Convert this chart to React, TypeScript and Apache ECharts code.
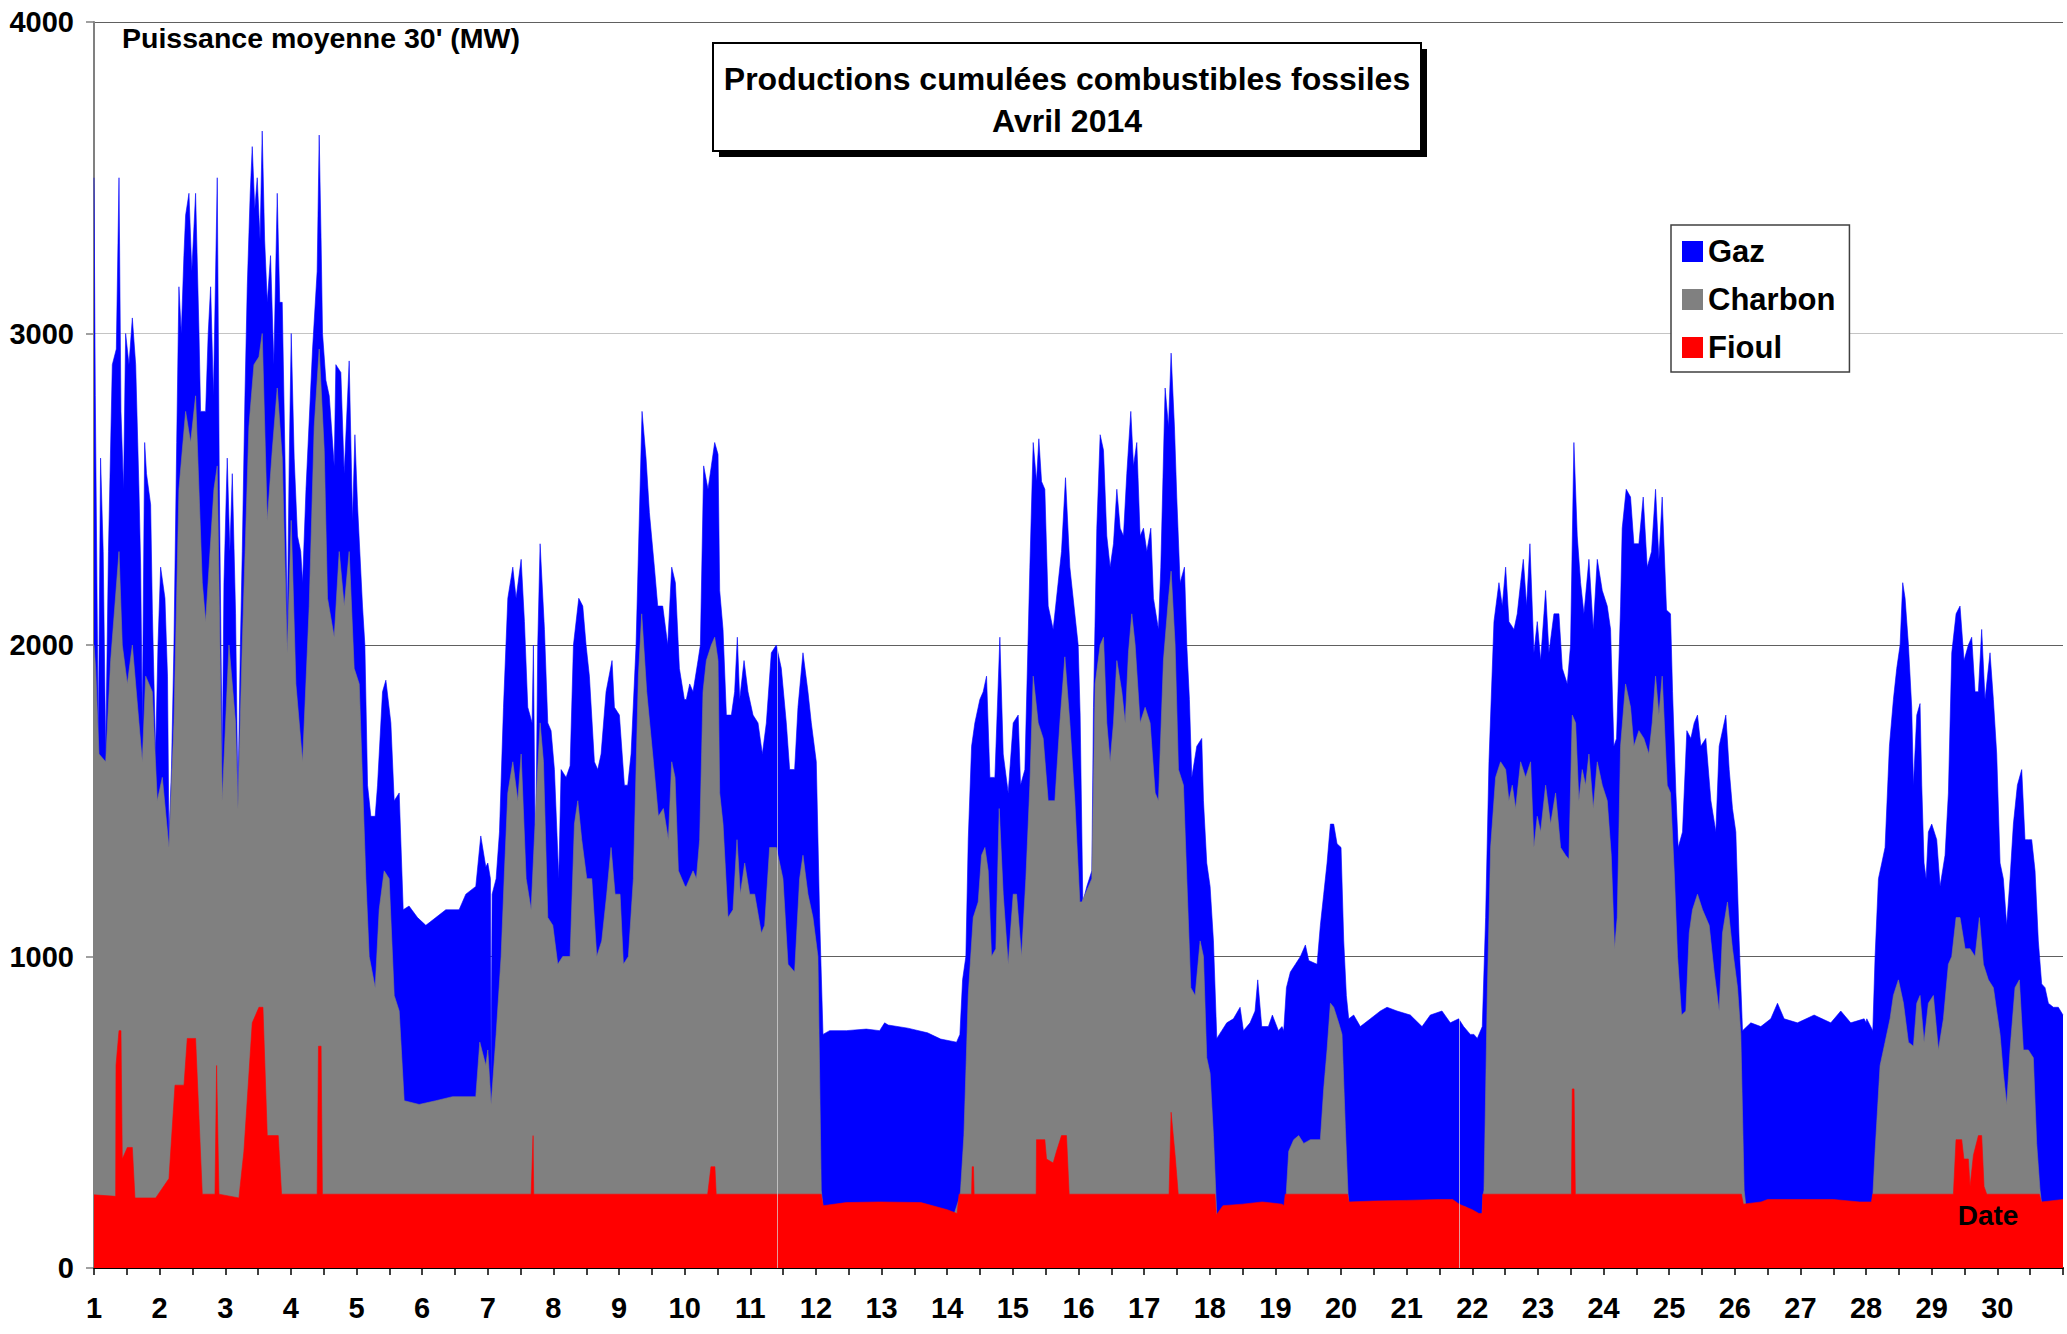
import React, { useEffect, useRef } from "react";
import * as echarts from "echarts";

const FONT = '"Liberation Sans", Arial, sans-serif';

// Cumulative levels (x = day of April 2014, y = MW)
// Top of blue layer = Gaz + Charbon + Fioul
const gazTotal: number[][] = [
  [1.0, 3500], [1.02, 2800], [1.066, 1680], [1.1, 2600], [1.14, 2300], [1.178, 1650], [1.22, 2300], [1.279, 2900], [1.34, 2950], [1.381, 3500],
  [1.411, 2750], [1.45, 2500], [1.482, 3000], [1.533, 2900], [1.584, 3050], [1.635, 2900], [1.685, 2500], [1.711, 2250], [1.736, 1750], [1.772, 2650],
  [1.8, 2550], [1.863, 2450], [1.89, 2100], [1.939, 1650], [1.975, 2000], [2.015, 2250], [2.081, 2150], [2.12, 1900], [2.142, 1380], [2.18, 1600],
  [2.218, 2000], [2.26, 2650], [2.294, 3150], [2.33, 3000], [2.37, 3250], [2.396, 3380], [2.447, 3450], [2.49, 3200], [2.548, 3450], [2.6, 3000],
  [2.624, 2750], [2.701, 2750], [2.74, 3000], [2.777, 3150], [2.82, 2800], [2.878, 3500], [2.91, 2500], [2.954, 1620], [2.98, 2200], [3.03, 2600],
  [3.07, 2300], [3.107, 2550], [3.157, 2100], [3.193, 1500], [3.23, 2000], [3.259, 2300], [3.3, 2800], [3.335, 3150], [3.38, 3450], [3.411, 3600],
  [3.45, 3400], [3.487, 3500], [3.53, 3300], [3.563, 3650], [3.6, 3300], [3.64, 3100], [3.69, 3250], [3.74, 2900], [3.792, 3450], [3.83, 3100],
  [3.868, 3100], [3.91, 2600], [3.944, 2050], [3.975, 2600], [4.005, 3000],
  [4.05, 2600], [4.1, 2350], [4.15, 2300], [4.178, 2200], [4.23, 2500], [4.33, 2950], [4.4, 3200], [4.431, 3637], [4.46, 3300], [4.482, 3000],
  [4.533, 2850], [4.584, 2800], [4.66, 2575], [4.685, 2900], [4.761, 2875], [4.812, 2550], [4.888, 2912], [4.939, 2400], [4.975, 2675], [5.015, 2450],
  [5.091, 2125], [5.127, 2000], [5.168, 1550], [5.218, 1450], [5.284, 1450], [5.32, 1550], [5.396, 1850], [5.447, 1887], [5.523, 1750], [5.574, 1500],
  [5.65, 1525], [5.711, 1150], [5.8, 1162], [5.929, 1125], [6.056, 1100], [6.208, 1125], [6.36, 1150], [6.563, 1150], [6.665, 1200], [6.817, 1225],
  [6.893, 1387], [6.97, 1287], [7.0, 1300],
  [7.04, 1250], [7.05, 600], [7.066, 1200], [7.127, 1250], [7.178, 1400], [7.239, 1800], [7.305, 2150], [7.381, 2250], [7.431, 2150], [7.508, 2275],
  [7.558, 2075], [7.609, 1800], [7.675, 1750], [7.695, 2000], [7.726, 1250], [7.761, 2000], [7.797, 2325], [7.863, 2050], [7.914, 1750], [7.964, 1725],
  [8.015, 1600], [8.081, 1250], [8.117, 1600], [8.193, 1575], [8.254, 1612], [8.305, 2000], [8.386, 2150], [8.447, 2125], [8.497, 2000], [8.548, 1900],
  [8.624, 1625], [8.675, 1600], [8.726, 1650], [8.802, 1850], [8.893, 1950], [8.929, 1800], [9.005, 1775], [9.081, 1550], [9.132, 1550], [9.183, 1650],
  [9.259, 2000], [9.35, 2750], [9.411, 2600], [9.462, 2425], [9.538, 2250], [9.589, 2125], [9.665, 2125], [9.741, 2000], [9.802, 2250], [9.858, 2200],
  [9.919, 1925], [9.995, 1825],
  [10.025, 1825], [10.076, 1875], [10.127, 1850], [10.203, 1950], [10.239, 2000], [10.289, 2575], [10.355, 2500], [10.406, 2575], [10.457, 2650], [10.508, 2612],
  [10.533, 2175], [10.584, 2050], [10.635, 1775], [10.711, 1775], [10.761, 1850], [10.802, 2025], [10.838, 1825], [10.904, 1950], [10.964, 1850], [11.041, 1775],
  [11.117, 1750], [11.183, 1650], [11.244, 1750], [11.32, 1975], [11.396, 2000], [11.472, 1925], [11.548, 1750], [11.599, 1600], [11.675, 1600], [11.726, 1800],
  [11.802, 1975], [11.878, 1850], [11.929, 1750], [12.005, 1625], [12.056, 1125], [12.107, 750], [12.208, 762], [12.462, 762], [12.766, 767], [12.97, 762],
  [13.046, 787],
  [13.1, 780], [13.4, 770], [13.7, 755], [13.9, 735], [14.142, 725], [14.193, 750], [14.234, 925], [14.284, 1000], [14.32, 1375], [14.371, 1675],
  [14.421, 1750], [14.497, 1825], [14.548, 1850], [14.599, 1900], [14.65, 1575], [14.726, 1575], [14.802, 2025], [14.853, 1650], [14.929, 1525], [15.005, 1750],
  [15.081, 1775], [15.117, 1550], [15.183, 1600], [15.259, 2250], [15.31, 2650], [15.36, 2525], [15.396, 2662], [15.437, 2525], [15.487, 2500], [15.538, 2125],
  [15.614, 2050], [15.69, 2200], [15.741, 2300], [15.802, 2537], [15.868, 2250], [15.944, 2100], [15.995, 2000],
  [16.025, 1775], [16.066, 1175], [16.127, 1225], [16.203, 1275], [16.228, 1800], [16.279, 2375], [16.33, 2675], [16.381, 2625], [16.431, 2350], [16.482, 2250],
  [16.533, 2325], [16.584, 2500], [16.635, 2375], [16.685, 2350], [16.736, 2550], [16.797, 2750], [16.838, 2575], [16.888, 2650], [16.939, 2350], [16.99, 2375],
  [17.041, 2300], [17.102, 2375], [17.142, 2150], [17.218, 2050], [17.254, 2250], [17.32, 2825], [17.371, 2700], [17.411, 2937], [17.462, 2700], [17.497, 2475],
  [17.548, 2200], [17.614, 2250], [17.65, 2000], [17.69, 1825], [17.726, 1575], [17.802, 1675], [17.878, 1700], [17.904, 1500], [17.954, 1300], [18.005, 1225],
  [18.056, 1050], [18.107, 737], [18.183, 762], [18.259, 787], [18.36, 800], [18.462, 837], [18.513, 762], [18.614, 787], [18.69, 825], [18.731, 925],
  [18.792, 775], [18.893, 775], [18.954, 812], [19.046, 762],
  [19.1, 775], [19.127, 762], [19.168, 900], [19.228, 950], [19.305, 975], [19.381, 1000], [19.457, 1037], [19.508, 987], [19.635, 975], [19.685, 1100],
  [19.736, 1200], [19.787, 1300], [19.838, 1425], [19.888, 1425], [19.939, 1362], [20.0, 1350], [20.041, 1050], [20.081, 875], [20.117, 800], [20.193, 812],
  [20.294, 775], [20.447, 800], [20.599, 825], [20.701, 837], [20.853, 825], [21.056, 812], [21.234, 775], [21.36, 812], [21.538, 825], [21.665, 787],
  [21.792, 800], [21.868, 775], [21.97, 750],
  [22.025, 750], [22.076, 737], [22.152, 775], [22.203, 1125], [22.254, 1625], [22.33, 2075], [22.406, 2200], [22.457, 2125], [22.508, 2250], [22.558, 2075],
  [22.635, 2050], [22.685, 2100], [22.736, 2200], [22.777, 2275], [22.827, 2125], [22.878, 2325], [22.939, 1975], [22.99, 2075], [23.041, 1950], [23.117, 2175],
  [23.168, 1975], [23.244, 2100], [23.32, 2100], [23.371, 1925], [23.447, 1875], [23.497, 2000], [23.548, 2650], [23.599, 2350], [23.65, 2200], [23.701, 2100],
  [23.777, 2275], [23.843, 2050], [23.904, 2275], [23.98, 2175], [24.056, 2125], [24.107, 2050], [24.157, 1675], [24.198, 1700], [24.259, 2125], [24.284, 2375],
  [24.345, 2500], [24.411, 2475], [24.462, 2325], [24.538, 2325], [24.604, 2475], [24.665, 2250], [24.731, 2300], [24.792, 2500], [24.843, 2275], [24.893, 2475],
  [24.959, 2112], [25.02, 2100],
  [25.051, 1850], [25.102, 1525], [25.137, 1350], [25.203, 1400], [25.269, 1725], [25.33, 1700], [25.381, 1750], [25.431, 1775], [25.482, 1675], [25.558, 1700],
  [25.635, 1500], [25.711, 1400], [25.761, 1675], [25.812, 1725], [25.863, 1775], [25.914, 1600], [25.964, 1475], [26.015, 1400], [26.066, 1050], [26.117, 762],
  [26.244, 787], [26.396, 775], [26.548, 800], [26.65, 850], [26.751, 800], [26.954, 787], [27.208, 812], [27.462, 787], [27.614, 825], [27.766, 787],
  [27.97, 800], [28.0, 787],
  [28.01, 800], [28.102, 762], [28.137, 1000], [28.188, 1250], [28.239, 1300], [28.289, 1350], [28.355, 1675], [28.416, 1825], [28.467, 1925], [28.518, 2000],
  [28.558, 2200], [28.594, 2150], [28.645, 2000], [28.695, 1800], [28.721, 1550], [28.772, 1775], [28.822, 1812], [28.848, 1550], [28.883, 1300], [28.914, 1250],
  [28.949, 1400], [29.0, 1425], [29.076, 1375], [29.127, 1225], [29.203, 1325], [29.254, 1525], [29.305, 1975], [29.371, 2100], [29.431, 2125], [29.492, 1950],
  [29.558, 2000], [29.609, 2025], [29.66, 1850], [29.711, 1850], [29.761, 2050], [29.812, 1825], [29.888, 1975], [29.939, 1825], [29.99, 1650], [30.041, 1300],
  [30.091, 1250], [30.142, 1100], [30.193, 1250], [30.244, 1425], [30.305, 1550], [30.371, 1600], [30.421, 1375], [30.472, 1375], [30.523, 1375], [30.574, 1275],
  [30.624, 1050], [30.675, 912], [30.726, 900], [30.777, 850], [30.853, 837], [30.929, 837], [31.0, 812],
];

// Top of grey layer = Charbon + Fioul
const charbonCumul: number[][] = [
  [1.0, 2000], [1.025, 1925], [1.076, 1650], [1.178, 1625], [1.254, 1950], [1.381, 2300], [1.431, 2000], [1.508, 1875], [1.584, 2000], [1.685, 1750],
  [1.736, 1625], [1.787, 1900], [1.888, 1850], [1.964, 1500], [2.041, 1575], [2.142, 1350], [2.218, 1750], [2.294, 2500], [2.396, 2750], [2.472, 2650],
  [2.548, 2800], [2.65, 2200], [2.701, 2075], [2.827, 2500], [2.878, 2575], [2.954, 1500], [3.056, 2000], [3.157, 1750], [3.193, 1475], [3.259, 2000],
  [3.36, 2700], [3.437, 2900], [3.513, 2925], [3.563, 3000], [3.64, 2400], [3.716, 2625], [3.792, 2825], [3.868, 2600], [3.944, 1975], [4.005, 2400],
  [4.076, 1875], [4.178, 1625], [4.279, 2125], [4.355, 2700], [4.431, 2950], [4.508, 2625], [4.558, 2150], [4.66, 2025], [4.736, 2300], [4.812, 2125],
  [4.888, 2300], [4.964, 1925], [5.041, 1875], [5.142, 1250], [5.193, 1000], [5.284, 900], [5.345, 1150], [5.421, 1275], [5.497, 1250], [5.574, 875],
  [5.65, 825], [5.726, 537], [5.954, 525], [6.208, 537], [6.462, 550], [6.817, 550], [6.878, 725], [6.97, 650], [7.0, 700],
  [7.051, 525], [7.127, 750], [7.203, 1000], [7.254, 1275], [7.305, 1525], [7.381, 1625], [7.457, 1500], [7.508, 1650], [7.584, 1250], [7.66, 1150],
  [7.736, 1500], [7.797, 1750], [7.848, 1625], [7.914, 1125], [7.99, 1100], [8.066, 975], [8.142, 1000], [8.254, 1000], [8.32, 1425], [8.371, 1500],
  [8.431, 1375], [8.508, 1250], [8.584, 1250], [8.66, 1000], [8.736, 1050], [8.812, 1200], [8.878, 1350], [8.939, 1200], [9.015, 1200], [9.066, 975],
  [9.142, 1000], [9.218, 1250], [9.294, 1900], [9.345, 2100], [9.421, 1850], [9.523, 1625], [9.599, 1450], [9.675, 1475], [9.751, 1375], [9.802, 1625],
  [9.853, 1575], [9.904, 1275], [10.005, 1225],
  [10.025, 1225], [10.127, 1275], [10.178, 1250], [10.228, 1375], [10.279, 1850], [10.33, 1950], [10.406, 2000], [10.457, 2025], [10.508, 1950], [10.533, 1525],
  [10.584, 1425], [10.66, 1125], [10.736, 1150], [10.797, 1375], [10.848, 1200], [10.914, 1300], [10.99, 1200], [11.066, 1200], [11.168, 1075], [11.218, 1100],
  [11.294, 1350], [11.396, 1350], [11.497, 1250], [11.574, 975], [11.675, 950], [11.751, 1250], [11.802, 1325], [11.878, 1200], [11.954, 1125], [12.03, 1000],
  [12.081, 250], [12.107, 195], [12.3, 200], [13.0, 200], [13.7, 195], [14.1, 170], [14.193, 230],
  [14.203, 250], [14.254, 425], [14.32, 875], [14.396, 1125], [14.472, 1175], [14.523, 1325], [14.574, 1350], [14.624, 1275], [14.675, 1000], [14.741, 1025],
  [14.792, 1475], [14.853, 1200], [14.929, 975], [15.005, 1200], [15.056, 1200], [15.132, 1000], [15.198, 1250], [15.259, 1550], [15.31, 1900], [15.386, 1750],
  [15.462, 1700], [15.538, 1500], [15.64, 1500], [15.716, 1750], [15.792, 1962], [15.868, 1750], [15.944, 1500], [16.02, 1175],
  [16.051, 1175], [16.203, 1250], [16.254, 1875], [16.33, 2000], [16.381, 2025], [16.431, 1750], [16.482, 1625], [16.533, 1750], [16.584, 1950], [16.66, 1850],
  [16.711, 1750], [16.761, 1975], [16.812, 2100], [16.863, 2000], [16.939, 1750], [17.015, 1800], [17.091, 1750], [17.168, 1525], [17.218, 1500], [17.294, 1950],
  [17.371, 2150], [17.411, 2237], [17.472, 2000], [17.523, 1600], [17.599, 1550], [17.65, 1250], [17.711, 900], [17.777, 875], [17.853, 1050], [17.904, 1000],
  [17.954, 675], [18.005, 625], [18.056, 425], [18.107, 165], [18.3, 190], [18.8, 200], [19.16, 195],
  [19.168, 250], [19.203, 375], [19.279, 412], [19.355, 425], [19.431, 400], [19.533, 412], [19.685, 412], [19.736, 575], [19.787, 700], [19.838, 850],
  [19.888, 837], [19.964, 787], [20.015, 750], [20.066, 450], [20.107, 237], [20.12, 205], [20.5, 205], [21.0, 208], [21.6, 210], [21.9, 195],
  [22.05, 170], [22.15, 170], [22.165, 235],
  [22.178, 250], [22.228, 875], [22.279, 1350], [22.355, 1575], [22.431, 1625], [22.508, 1600], [22.558, 1500], [22.609, 1550], [22.66, 1475], [22.736, 1625],
  [22.812, 1575], [22.888, 1625], [22.939, 1350], [22.99, 1450], [23.041, 1400], [23.117, 1550], [23.193, 1425], [23.269, 1525], [23.345, 1350], [23.421, 1325],
  [23.472, 1312], [23.523, 1775], [23.574, 1750], [23.624, 1500], [23.675, 1600], [23.726, 1550], [23.777, 1650], [23.843, 1475], [23.904, 1625], [23.98, 1550],
  [24.056, 1500], [24.117, 1325], [24.168, 1025], [24.208, 1125], [24.259, 1675], [24.335, 1875], [24.411, 1800], [24.462, 1675], [24.538, 1725], [24.614, 1700],
  [24.69, 1650], [24.741, 1750], [24.792, 1900], [24.843, 1775], [24.893, 1900], [24.97, 1550], [25.02, 1525],
  [25.076, 1275], [25.127, 1000], [25.188, 812], [25.254, 825], [25.305, 1075], [25.355, 1150], [25.431, 1200], [25.508, 1150], [25.609, 1100], [25.685, 950],
  [25.761, 825], [25.812, 1075], [25.888, 1175], [25.964, 1025], [26.041, 900], [26.091, 750], [26.142, 250], [26.168, 200], [26.5, 205], [27.0, 210],
  [27.5, 210], [28.0, 205], [28.09, 205], [28.102, 230],
  [28.137, 375], [28.213, 650], [28.289, 725], [28.365, 800], [28.416, 875], [28.492, 925], [28.569, 850], [28.645, 725], [28.721, 712], [28.772, 850],
  [28.822, 875], [28.883, 725], [28.949, 850], [29.025, 875], [29.102, 700], [29.178, 800], [29.254, 975], [29.305, 1000], [29.371, 1125], [29.431, 1125],
  [29.508, 1025], [29.584, 1025], [29.66, 1000], [29.726, 1125], [29.787, 975], [29.863, 925], [29.939, 900], [30.041, 750], [30.091, 625], [30.142, 525],
  [30.193, 700], [30.269, 900], [30.335, 925], [30.396, 700], [30.472, 700], [30.548, 675], [30.599, 400], [30.65, 250], [30.675, 205], [31.0, 210],
];

// Top of red layer = Fioul
const fioulLevel: number[][] = [
  [1.0, 235], [1.33, 230], [1.335, 650], [1.381, 762], [1.411, 762], [1.431, 350], [1.508, 387], [1.584, 387], [1.624, 225], [1.94, 225],
  [2.142, 287], [2.234, 587], [2.371, 587], [2.421, 737], [2.548, 737], [2.65, 237], [2.843, 237], [2.868, 650], [2.904, 237], [3.208, 225],
  [3.284, 375], [3.411, 787], [3.513, 837], [3.574, 837], [3.64, 425], [3.807, 425], [3.858, 237], [4.4, 237], [4.42, 712], [4.46, 712],
  [4.48, 237], [7.66, 237], [7.69, 425], [7.7, 237], [10.35, 237], [10.4, 325], [10.46, 325], [10.48, 237], [12.08, 237], [12.11, 200],
  [12.46, 210], [12.97, 212], [13.6, 210], [14.0, 187], [14.15, 175], [14.18, 237], [14.371, 237], [14.38, 325], [14.4, 325], [14.41, 237],
  [15.355, 237], [15.36, 412], [15.487, 412], [15.513, 350], [15.614, 337], [15.665, 375], [15.741, 425], [15.817, 425], [15.858, 237], [17.38, 237],
  [17.411, 500], [17.472, 362], [17.52, 237], [18.08, 237], [18.1, 170], [18.2, 200], [18.5, 205], [18.8, 212], [19.1, 205], [19.13, 200],
  [19.15, 237], [20.1, 237], [20.12, 212], [20.5, 215], [21.0, 217], [21.5, 220], [21.7, 220], [21.8, 205], [22.0, 187], [22.1, 175],
  [22.15, 175], [22.16, 237], [23.51, 237], [23.523, 575], [23.55, 575], [23.57, 237], [26.1, 237], [26.13, 205], [26.4, 212], [26.5, 220],
  [27.5, 220], [27.9, 212], [28.08, 212], [28.1, 237], [29.33, 237], [29.37, 412], [29.457, 412], [29.49, 350], [29.558, 350], [29.584, 262],
  [29.635, 362], [29.711, 425], [29.761, 425], [29.797, 262], [29.838, 237], [30.64, 237], [30.67, 212], [31.0, 220],
];

// Thin light seams visible in the reference (data block boundaries)
const seamDays = [11.406, 21.802];
const seamTops = [1990, 800];

const seriesNames = ["Gaz", "Charbon", "Fioul"];
const seriesColors = ["#0000ff", "#808080", "#ff0000"];

export default function App() {
  const ref = useRef<HTMLDivElement>(null);

  useEffect(() => {
    if (!ref.current) return;
    const chart = echarts.init(ref.current, null, { renderer: "svg" });
    const layers = [gazTotal, charbonCumul, fioulLevel];

    const option: any = {
      animation: false,
      backgroundColor: "#ffffff",
      textStyle: { fontFamily: FONT },
      grid: { left: 94, right: 4, top: 22, bottom: 66, containLabel: false },
      legend: {
        data: seriesNames,
        orient: "vertical",
        left: 1671,
        top: 225,
        icon: "rect",
        itemWidth: 21,
        itemHeight: 21,
        itemGap: 17,
        padding: [11, 14, 9, 11],
        borderColor: "#404040",
        borderWidth: 1.5,
        backgroundColor: "#ffffff",
        selectedMode: false,
        textStyle: { fontFamily: FONT, fontSize: 31, fontWeight: "bold", color: "#000", lineHeight: 30 },
      },
      xAxis: {
        type: "value",
        min: 1,
        max: 31,
        interval: 0.5,
        axisLine: { show: true, onZero: false, lineStyle: { color: "#000", width: 2 } },
        axisTick: { show: true, length: 7, lineStyle: { color: "#000", width: 1.5 } },
        axisLabel: {
          formatter: (v: number) => (Number.isInteger(v) && v < 31 ? String(v) : ""),
          fontFamily: FONT,
          fontSize: 29,
          fontWeight: "bold",
          color: "#000",
          margin: 25,
          hideOverlap: false,
        },
        splitLine: { show: false },
      },
      yAxis: {
        type: "value",
        min: 0,
        max: 4000,
        interval: 1000,
        axisLine: { show: true, lineStyle: { color: "#808080", width: 2 } },
        axisTick: { show: true, length: 8, lineStyle: { color: "#808080", width: 1.5 } },
        axisLabel: {
          formatter: (v: number) => String(v),
          fontFamily: FONT,
          fontSize: 29,
          fontWeight: "bold",
          color: "#000",
          margin: 20,
        },
        splitLine: {
          show: true,
          lineStyle: { color: ["#808080", "#606060", "#606060", "#c4c4c4", "#606060"], width: 1 },
        },
      },
      series: layers.map((d, i) => ({
        name: seriesNames[i],
        type: "line",
        data: d,
        color: seriesColors[i],
        showSymbol: false,
        symbol: "none",
        silent: true,
        lineStyle: { width: 0.6, color: seriesColors[i] },
        areaStyle: { color: seriesColors[i], opacity: 1 },
        z: 2 + i,
        markLine:
          i === 2
            ? {
                silent: true,
                symbol: ["none", "none"],
                label: { show: false },
                lineStyle: { color: "rgba(220,220,220,0.7)", width: 1, type: "solid" },
                data: seamDays.map((x, k) => [{ coord: [x, 0] }, { coord: [x, seamTops[k]] }]),
              }
            : undefined,
      })),
      graphic: [
        {
          type: "rect",
          z: 10,
          shape: { x: 719, y: 49, width: 708, height: 108 },
          style: { fill: "#000" },
        },
        {
          type: "rect",
          z: 11,
          shape: { x: 713, y: 43, width: 708, height: 108 },
          style: { fill: "#fff", stroke: "#000", lineWidth: 2 },
        },
        {
          type: "text",
          z: 12,
          x: 1067,
          y: 79,
          style: {
            text: "Productions cumulées combustibles fossiles",
            fontFamily: FONT,
            fontSize: 32,
            fontWeight: "bold",
            fill: "#000",
            align: "center",
            verticalAlign: "middle",
          },
        },
        {
          type: "text",
          z: 12,
          x: 1067,
          y: 121,
          style: {
            text: "Avril 2014",
            fontFamily: FONT,
            fontSize: 32,
            fontWeight: "bold",
            fill: "#000",
            align: "center",
            verticalAlign: "middle",
          },
        },
        {
          type: "text",
          z: 12,
          x: 122,
          y: 38,
          style: {
            text: "Puissance moyenne 30' (MW)",
            fontFamily: FONT,
            fontSize: 28.5,
            fontWeight: "bold",
            fill: "#000",
            align: "left",
            verticalAlign: "middle",
          },
        },
        {
          type: "text",
          z: 100,
          x: 1988,
          y: 1215,
          style: {
            text: "Date",
            fontFamily: FONT,
            fontSize: 28,
            fontWeight: "bold",
            fill: "#000",
            align: "center",
            verticalAlign: "middle",
          },
        },
      ],
    };

    chart.setOption(option);
    return () => chart.dispose();
  }, []);

  return (
    <div
      ref={ref}
      style={{ position: "fixed", left: 0, top: 0, width: 2067, height: 1334, background: "#fff" }}
    />
  );
}
